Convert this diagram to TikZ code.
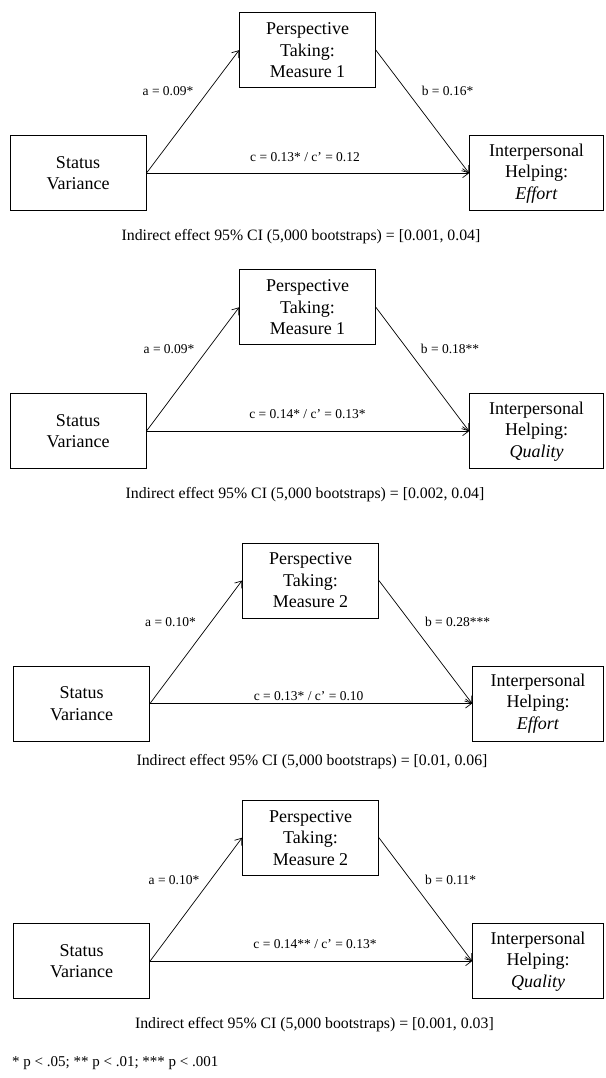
\documentclass[tikz,border=0pt]{standalone}
\usepackage{fontspec}
\setmainfont{Liberation Serif}
\usetikzlibrary{arrows.meta}
\begin{document}
\begin{tikzpicture}[x=1pt,y=-1pt,
  vbox/.style={draw, line width=0.8pt, minimum width=136pt, minimum height=75pt, inner sep=0pt, align=center, font=\fontsize{18}{21.5}\selectfont},
  ybox/.style={vbox, minimum width=134pt},
  lab/.style={font=\fontsize{13.5}{16}\selectfont, inner sep=0pt},
  captxt/.style={font=\fontsize{15.8}{19}\selectfont, inner sep=0pt},
  arr/.style={-{Straight Barb[length=6pt,width=9pt]}, line width=0.7pt}
]
\useasboundingbox (0,0) rectangle (605,1078);
% Panel 1
\node[vbox] (m1) at (307.5,50.2) {Perspective\\Taking:\\Measure 1};
\node[vbox] (x1) at (78,173.2) {Status\\Variance};
\node[ybox] (y1) at (536.5,173.2) {Interpersonal\\Helping:\\\textit{Effort}};
\draw[arr] (x1.east) -- (m1.west);
\draw[arr] (m1.east) -- (y1.west);
\draw[arr] (x1.east) -- (y1.west);
\node[lab] (a1) at (168,90.7) {a = 0.09*};
\node[lab] (b1) at (447.5,90.7) {b = 0.16*};
\node[lab] (c1) at (305,156.7) {c = 0.13* / c’ = 0.12};
\node[captxt] (i1) at (301,236.7) {Indirect effect 95\% CI (5,000 bootstraps) = [0.001, 0.04]};
% Panel 2
\node[vbox] (m2) at (307.5,307.3) {Perspective\\Taking:\\Measure 1};
\node[vbox] (x2) at (78,431.2) {Status\\Variance};
\node[ybox] (y2) at (536.5,431.2) {Interpersonal\\Helping:\\\textit{Quality}};
\draw[arr] (x2.east) -- (m2.west);
\draw[arr] (m2.east) -- (y2.west);
\draw[arr] (x2.east) -- (y2.west);
\node[lab] (a2) at (169,349.3) {a = 0.09*};
\node[lab] (b2) at (450,349.3) {b = 0.18**};
\node[lab] (c2) at (307.5,414) {c = 0.14* / c’ = 0.13*};
\node[captxt] (i2) at (305,495) {Indirect effect 95\% CI (5,000 bootstraps) = [0.002, 0.04]};
% Panel 3
\node[vbox] (m3) at (310.5,580.5) {Perspective\\Taking:\\Measure 2};
\node[vbox] (x3) at (81.6,703.5) {Status\\Variance};
\node[ybox, minimum width=131pt] (y3) at (538,703.5) {Interpersonal\\Helping:\\\textit{Effort}};
\draw[arr] (x3.east) -- (m3.west);
\draw[arr] (m3.east) -- (y3.west);
\draw[arr] (x3.east) -- (y3.west);
\node[lab] (a3) at (170.5,621.7) {a = 0.10*};
\node[lab] (b3) at (457.6,621.7) {b = 0.28***};
\node[lab] (c3) at (308.6,696) {c = 0.13* / c’ = 0.10};
\node[captxt] (i3) at (312,761.7) {Indirect effect 95\% CI (5,000 bootstraps) = [0.01, 0.06]};
% Panel 4
\node[vbox] (m4) at (310.5,837.7) {Perspective\\Taking:\\Measure 2};
\node[vbox] (x4) at (81.6,961.2) {Status\\Variance};
\node[ybox, minimum width=131pt] (y4) at (538,961.2) {Interpersonal\\Helping:\\\textit{Quality}};
\draw[arr] (x4.east) -- (m4.west);
\draw[arr] (m4.east) -- (y4.west);
\draw[arr] (x4.east) -- (y4.west);
\node[lab] (a4) at (174,880) {a = 0.10*};
\node[lab] (b4) at (450.7,880) {b = 0.11*};
\node[lab] (c4) at (315,944) {c = 0.14** / c’ = 0.13*};
\node[captxt] (i4) at (314.4,1025) {Indirect effect 95\% CI (5,000 bootstraps) = [0.001, 0.03]};
% Footnote
\node[captxt, anchor=west, font=\fontsize{15}{18}\selectfont] (fn) at (12,1063) {* p < .05; ** p < .01; *** p < .001};
\end{tikzpicture}
\end{document}
